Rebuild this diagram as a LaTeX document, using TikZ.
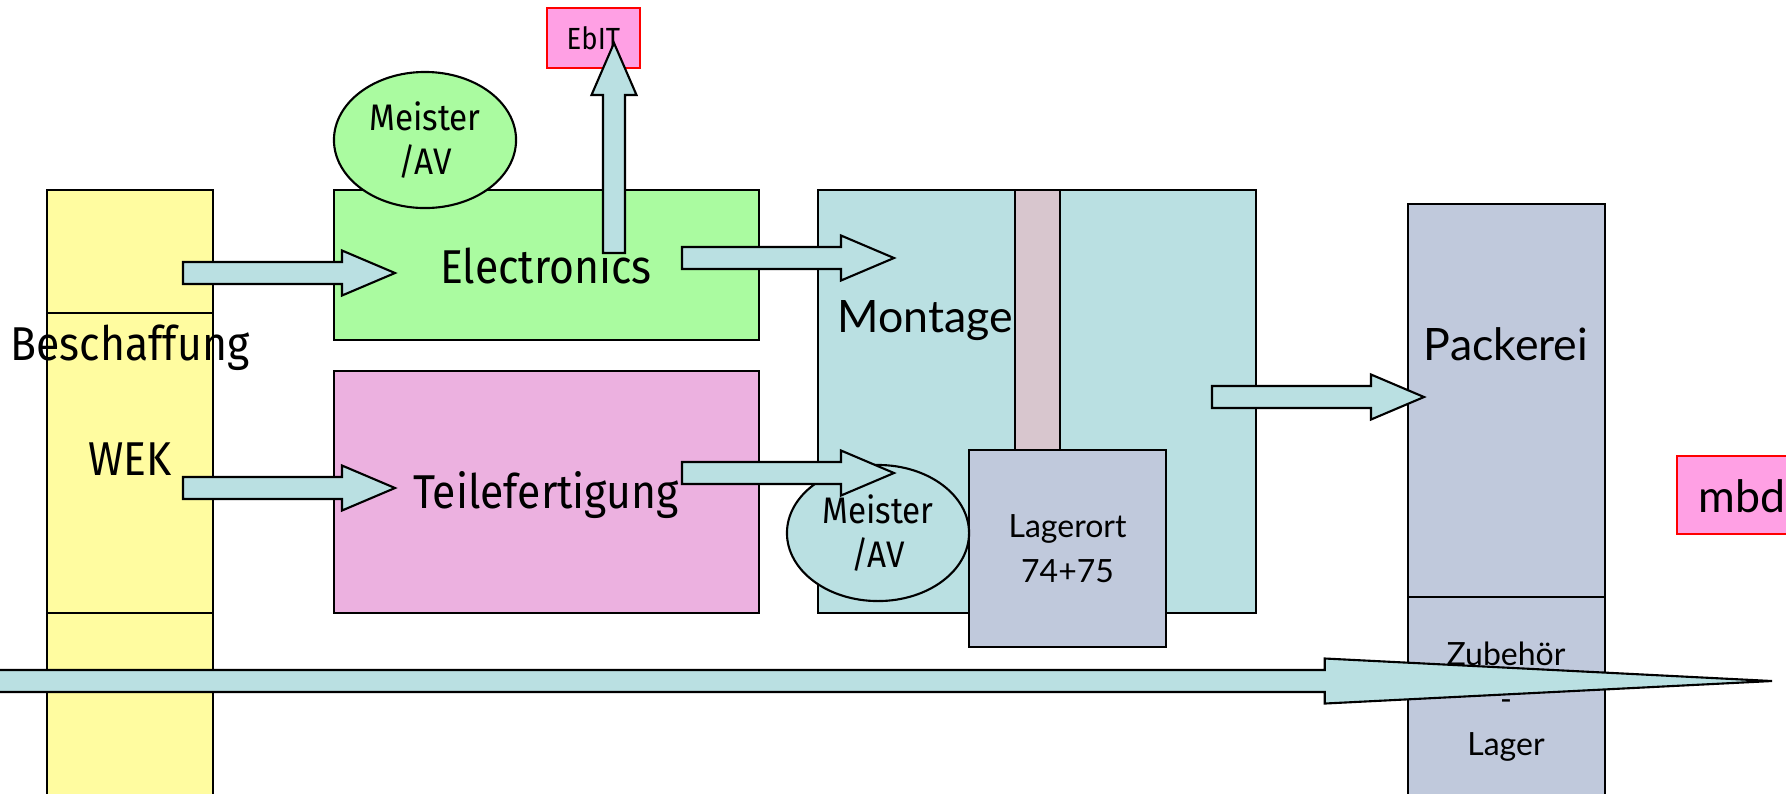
\documentclass[tikz,border=0pt]{standalone}
\usepackage{fontspec}
\setmainfont{Lato}
\newfontfamily\condfont[FakeStretch=0.9]{Fira Sans}
\usetikzlibrary{shapes.geometric, positioning, calc}
\definecolor{myyellow}{RGB}{255,252,160}
\definecolor{mygreen}{RGB}{170,251,160}
\definecolor{mymauve}{RGB}{236,177,224}
\definecolor{mycyan}{RGB}{186,224,226}
\definecolor{mypillar}{RGB}{216,198,206}
\definecolor{mylav}{RGB}{192,201,220}
\definecolor{myhot}{RGB}{255,160,228}
\tikzset{
  area/.style={rectangle, draw=black, line width=0.6pt, inner sep=0pt, outer sep=0pt, anchor=north west},
  tag/.style={rectangle, draw=red, fill=myhot, line width=0.5pt, inner sep=0pt, anchor=north west},
  boss/.style={ellipse, draw=black, line width=0.6pt, minimum width=1.82cm, minimum height=1.36cm,
    inner sep=0pt, align=center, font=\condfont\fontsize{10.5pt}{12.5pt}\selectfont},
  bigcond/.style={inner sep=0pt, anchor=base, font=\condfont\fontsize{13.5pt}{16pt}\selectfont},
  bigwide/.style={inner sep=0pt, anchor=base, font=\fontsize{12.7pt}{15pt}\selectfont},
  smallwide/.style={inner sep=0pt, align=center, font=\fontsize{9.1pt}{12.8pt}\selectfont},
  flow/.style={draw=black, fill=mycyan, line width=0.6pt, line join=miter}
}
% block arrow: [head length]{from}{to}
\newcommand{\flowarrow}[3][0.53cm]{%
  \coordinate (hb) at ($(#3)!#1!(#2)$);
  \draw[flow] ($(#2)!0.11cm!90:(#3)$) -- ($(hb)!0.11cm!-90:(#2)$)
    -- ($(hb)!0.225cm!-90:(#2)$) -- (#3)
    -- ($(hb)!0.225cm!90:(#2)$) -- ($(hb)!0.11cm!90:(#2)$)
    -- ($(#2)!0.11cm!-90:(#3)$) -- cycle;
}

\begin{document}
\begin{tikzpicture}[x=0.01cm, y=-0.01cm]
  \clip (0,0) rectangle (1786,793);
  \fill[white] (0,0) rectangle (1786,793);

  % Beschaffung column
  \node[area, fill=myyellow, minimum width=1.66cm, minimum height=1.23cm] (beschtop) at (47,190) {};
  \node[area, fill=myyellow, minimum width=1.66cm, minimum height=3.00cm, below=0pt of beschtop] (beschmid) {};
  \node[area, fill=myyellow, minimum width=1.66cm, minimum height=2.20cm, below=0pt of beschmid] (beschbot) {};
  \node[bigcond] (besch) at (130,360) {Beschaffung};
  \node[bigcond] (wek) at (130,475) {WEK};

  % Electronics
  \node[area, fill=mygreen, minimum width=4.25cm, minimum height=1.50cm] (elec) at (334,190) {};
  \node[bigcond] (eleclbl) at (546,283) {Electronics};
  \node[boss, fill=mygreen] (meister1) at (425,140) {Meister\\/AV};
  \node[tag, minimum width=0.93cm, minimum height=0.60cm, font=\condfont\fontsize{8.7pt}{10pt}\selectfont] (ebit) at (546,7) {EbIT};

  % Teilefertigung
  \node[area, fill=mymauve, minimum width=4.25cm, minimum height=2.42cm] (teile) at (334,371) {};
  \node[bigcond] (teilelbl) at (546,508) {Teilefertigung};

  % Montage
  \node[area, fill=mycyan, minimum width=4.38cm, minimum height=4.23cm] (mont) at (818,190) {};
  \node[bigwide] (montlbl) at (925,332) {Montage};
  \node[area, fill=mypillar, minimum width=0.45cm, minimum height=2.60cm] (pillar) at (1015,190) {};
  \node[area, fill=mylav, minimum width=1.97cm, minimum height=1.97cm, smallwide, anchor=north west] (lager) at (969,450) {Lagerort\\74+75};
  \node[boss, fill=mycyan] (meister2) at (878,533) {Meister\\/AV};

  % Packerei column
  \node[area, fill=mylav, minimum width=1.97cm, minimum height=3.93cm] (packtop) at (1408,204) {};
  \node[area, fill=mylav, minimum width=1.97cm, minimum height=2.20cm, below=0pt of packtop] (packbot) {};
  \node[bigwide] (packlbl) at (1506,360) {Packerei};
  \node[smallwide] (zubehoer) at (1506,702) {Zubeh\"or\\-\\Lager};

  % mbda
  \node[tag, minimum width=2.00cm, minimum height=0.78cm] (mbda) at (1676,455) {};
  \node[bigwide, anchor=base west] (mbdalbl) at (1698,512) {mbda};

  % flow arrows
  \coordinate (b2e) at (183,273);  \coordinate (e-in) at (395,273);
  \coordinate (b2t) at (183,488);  \coordinate (t-in) at (395,488);
  \coordinate (e-up) at (614,253); \coordinate (ebit-in) at (614,43);
  \coordinate (e2m) at (682,258);  \coordinate (m-in1) at (894,258);
  \coordinate (t2m) at (682,473);  \coordinate (m-in2) at (894,473);
  \coordinate (m2p) at (1212,397); \coordinate (p-in) at (1424,397);
  \coordinate (lstart) at (-10,681); \coordinate (lend) at (1772,681);

  \flowarrow{b2e}{e-in}
  \flowarrow{b2t}{t-in}
  \flowarrow[0.52cm]{e-up}{ebit-in}
  \flowarrow{e2m}{m-in1}
  \flowarrow{t2m}{m-in2}
  \flowarrow{m2p}{p-in}
  \flowarrow[4.47cm]{lstart}{lend}
\end{tikzpicture}
\end{document}
